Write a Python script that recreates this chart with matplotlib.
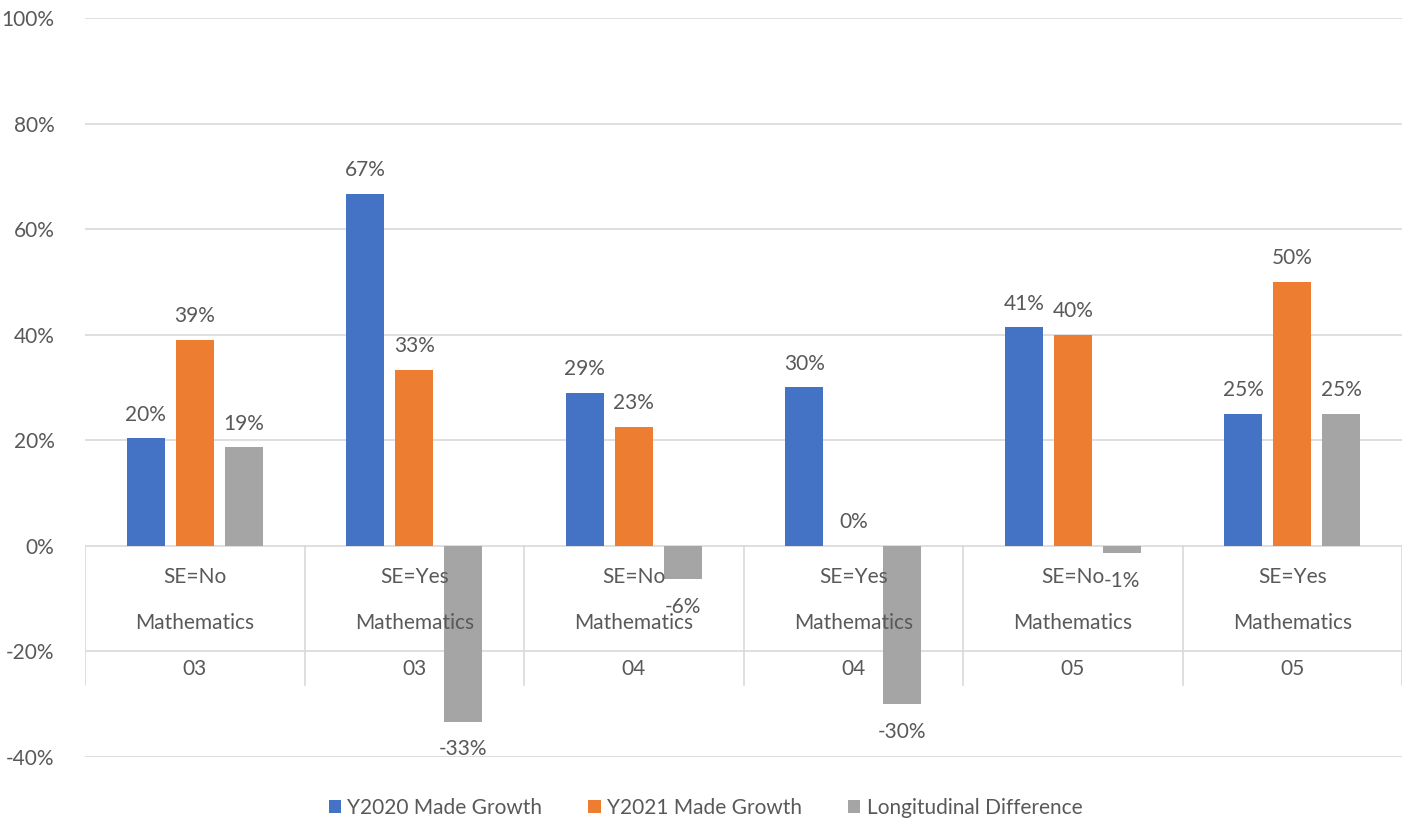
import matplotlib
matplotlib.use("Agg")
import matplotlib.pyplot as plt
import numpy as np

plt.rcParams['font.family'] = ['Lato', 'DejaVu Sans']

grades = ["03", "03", "04", "04", "05", "05"]
se_labels = ["SE=No", "SE=Yes", "SE=No", "SE=Yes", "SE=No", "SE=Yes"]
subjects = ["Mathematics"] * 6
series_names = ["Y2020 Made Growth", "Y2021 Made Growth", "Longitudinal Difference"]
y2020 = [20.4, 66.7, 29.0, 30.0, 41.4, 25.0]
y2021 = [39.0, 33.3, 22.6, 0.0, 40.0, 50.0]
diff = [18.7, -33.3, -6.3, -30.0, -1.4, 25.0]
colors = ["#4472C4", "#ED7D31", "#A5A5A5"]
yticks = [-40, -20, 0, 20, 40, 60, 80, 100]

txt = "#595959"
grid = "#D9D9D9"
fs = 15

fig = plt.figure(figsize=(14.11, 8.23), dpi=100)
ax = fig.add_axes([85/1411, 1-757/823, (1402-85)/1411, (757-18)/823])

n = len(grades)
x = np.arange(n)
step = 49/219.5
width = 38/219.5
for i, (vals, c, name) in enumerate(zip([y2020, y2021, diff], colors, series_names)):
    pos = x + (i-1)*step
    ax.bar(pos, vals, width=width, color=c, label=name, zorder=3)
    for p, v in zip(pos, vals):
        lab = f"{v:.0f}%"
        if v >= 0:
            ax.annotate(lab, (p, v), xytext=(0, 17), textcoords="offset points",
                        ha="center", va="center", fontsize=fs, color=txt, zorder=5)
        else:
            ax.annotate(lab, (p, v), xytext=(0, -20), textcoords="offset points",
                        ha="center", va="center", fontsize=fs, color=txt, zorder=5)

ax.set_xlim(-0.5, n-0.5)
ax.set_ylim(-40, 100)
ax.set_yticks(yticks)
ax.set_yticklabels([f"{t}%" for t in yticks], fontsize=fs, color=txt)
ax.tick_params(axis="y", length=0, pad=22)
ax.set_xticks([])
for s in ax.spines.values():
    s.set_visible(False)
for t in yticks:
    ax.axhline(t, color=grid, lw=1.2, zorder=1)

# multi-level category table
tbot = -26.3
for b in np.arange(-0.5, n, 1.0):
    ax.plot([b, b], [0, tbot], color=grid, lw=1.2, zorder=2)
for i in range(n):
    ax.text(x[i], -5.9, se_labels[i], ha="center", va="center", fontsize=fs, color=txt, zorder=4)
    ax.text(x[i], -14.6, subjects[i], ha="center", va="center", fontsize=fs, color=txt, zorder=4)
    ax.text(x[i], -23.3, grades[i], ha="center", va="center", fontsize=fs, color=txt, zorder=4)

fig.legend(loc="center", bbox_to_anchor=(0.5, 1-808/823), ncol=3, frameon=False,
           fontsize=fs, labelcolor=txt, handlelength=0.6, handleheight=0.6,
           handletextpad=0.3, columnspacing=2.2)

fig.savefig("out.png", dpi=100)
